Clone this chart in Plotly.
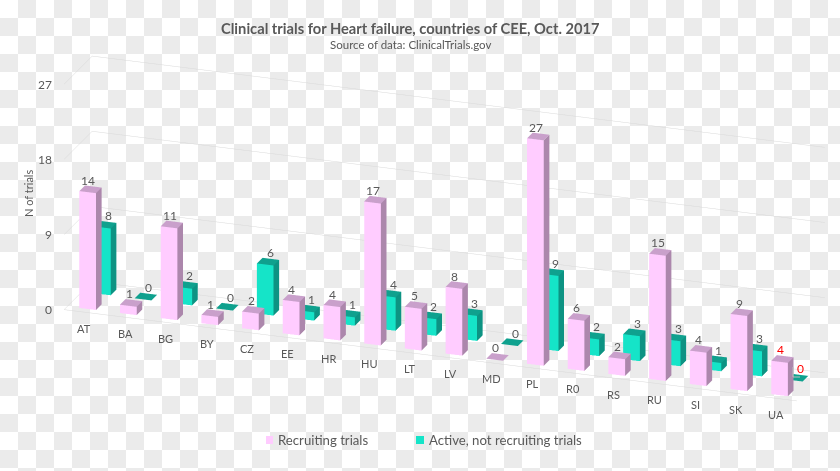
import plotly.graph_objects as go

countries = ['AT', 'BA', 'BG', 'BY', 'CZ', 'EE', 'HR', 'HU', 'LT', 'LV', 'MD', 'PL',
             'R0', 'RS', 'RU', 'SI', 'SK', 'UA']
recruiting = [14, 1, 11, 1, 2, 4, 4, 17, 5, 8, 0, 27, 6, 2, 15, 4, 9, 4]
active = [8, 0, 2, 0, 6, 1, 1, 4, 2, 3, 0, 9, 2, 3, 3, 1, 3, 0]
z_ticks = [0, 9, 18, 27]

TEXT = '#595959'
FONT = 'Lato'
W, H = 840, 471
CELL = 18
ZOOM = 3.4


def bars_mesh(values, row, name, front, side, top):
    # one cuboid per category: front, right side and top faces are coloured apart
    xs, ys, zs, i, j, k, colors = [], [], [], [], [], [], []
    for n, v in enumerate(values):
        x0, x1 = n - 0.205, n + 0.205
        y0, y1 = row - 0.2, row + 0.2
        b = len(xs)
        xs += [x0, x1, x1, x0, x0, x1, x1, x0]
        ys += [y0, y0, y1, y1, y0, y0, y1, y1]
        zs += [0, 0, 0, 0, v, v, v, v]
        faces = [((0, 1, 5), front), ((0, 5, 4), front),
                 ((1, 2, 6), side), ((1, 6, 5), side),
                 ((4, 5, 6), top), ((4, 6, 7), top)]
        for (a, c, d), col in faces:
            i.append(b + a)
            j.append(b + c)
            k.append(b + d)
            colors.append(col)
    return go.Mesh3d(x=xs, y=ys, z=zs, i=i, j=j, k=k, facecolor=colors, name=name,
                     flatshading=True, hoverinfo='skip',
                     lighting=dict(ambient=1, diffuse=0, specular=0, fresnel=0, roughness=1))


def page_note(x, y, text, size, **kw):
    return dict(x=x / W, y=1 - y / H, xref='paper', yref='paper', showarrow=False, text=text,
                xanchor=kw.pop('xanchor', 'center'), yanchor='middle',
                font=dict(family=FONT, size=size, color=TEXT), **kw)


fig = go.Figure()
fig.add_trace(bars_mesh(recruiting, 0.5, 'Recruiting trials', '#ffccff', '#ac87ac', '#c9a0cb'))
fig.add_trace(bars_mesh(active, 1.55, 'Active, not recruiting trials', '#15e4c8', '#0d9383', '#0fa18e'))

# labels sit in the scene so they follow the axes
notes = []
for n, c in enumerate(countries):
    notes.append(dict(x=n, y=0.075, z=0, text=c, showarrow=False, yshift=-16,
                      font=dict(family=FONT, size=11, color=TEXT)))
for row, shift, values in ((0.5, -2, recruiting), (1.55, 3, active)):
    for n, v in enumerate(values):
        color = 'red' if n == len(values) - 1 else TEXT
        notes.append(dict(x=n, y=row, z=v, text=str(v), showarrow=False, xshift=shift, yshift=9,
                          font=dict(family=FONT, size=12, color=color)))
for t in z_ticks:
    notes.append(dict(x=-0.5, y=0.075, z=t, text=str(t), showarrow=False, xanchor='right', xshift=-10,
                      font=dict(family=FONT, size=12, color=TEXT)))

hidden = dict(showbackground=False, showgrid=False, zeroline=False, showticklabels=False,
              showspikes=False, title='', ticks='')

# checker backdrop, one path
checker = ''
for r in range(H // CELL + 1):
    for c in range(W // CELL + 1):
        if (r + c) % 2:
            checker += 'M%f,%f H%f V%f H%f Z ' % (c * CELL / W, 1 - r * CELL / H,
                                                  (c + 1) * CELL / W, 1 - (r + 1) * CELL / H, c * CELL / W)

fig.update_layout(
    width=W, height=H, margin=dict(l=0, r=0, t=0, b=0), paper_bgcolor='white',
    showlegend=False, font=dict(family=FONT, color=TEXT),
    scene=dict(
        domain=dict(x=[0.0583, 1], y=[0.0298, 1]),
        bgcolor='rgba(0,0,0,0)',
        aspectmode='manual', aspectratio=dict(x=ZOOM, y=0.10856 * ZOOM, z=0.3102 * ZOOM),
        camera=dict(projection=dict(type='orthographic'), up=dict(x=0, y=0, z=1),
                    center=dict(x=0, y=0, z=0), eye=dict(x=0.3115, y=-0.8827, z=0.353)),
        xaxis=dict(hidden, range=[-0.5, 17.5], showline=True, linecolor='#d9d9d9', linewidth=1),
        yaxis=dict(hidden, range=[0.075, 2.075]),
        zaxis=dict(hidden, range=[0, 27], tickvals=z_ticks, showgrid=True, gridcolor='#d9d9d9', gridwidth=1),
        annotations=notes,
    ),
    shapes=[
        dict(type='path', path=checker, xref='paper', yref='paper', fillcolor='#ebebeb',
             line=dict(width=0), layer='below'),
        dict(type='rect', xref='paper', yref='paper', x0=266 / W, x1=273 / W, y0=1 - 444 / H, y1=1 - 436 / H,
             fillcolor='#ffccff', line=dict(width=0)),
        dict(type='rect', xref='paper', yref='paper', x0=416 / W, x1=424 / W, y0=1 - 444 / H, y1=1 - 436 / H,
             fillcolor='#15e4c8', line=dict(width=0)),
        # leader line of the last "0" label
        dict(type='path', xref='paper', yref='paper', line=dict(color='#bfbfbf', width=1),
             path='M%f,%f V%f H%f' % (793 / W, 1 - 367 / H, 1 - 377 / H, 800 / W)),
    ],
    annotations=[
        page_note(410, 28, '<b>Clinical trials for Heart failure, countries of CEE, Oct. 2017</b>', 14.7),
        page_note(410, 45, 'Source of data: ClinicalTrials.gov', 11.5),
        page_note(28, 194, 'N of trials', 11, textangle=-90),
        page_note(275.5, 440, 'Recruiting trials', 13.2, xanchor='left'),
        page_note(426.5, 440, 'Active, not recruiting trials', 13.2, xanchor='left'),
    ],
)

# drop the page's default body margin so the figure starts at the window corner
fig.write_html("out.html", config=dict(displayModeBar=False),
               post_script="document.body.style.margin='0';")
